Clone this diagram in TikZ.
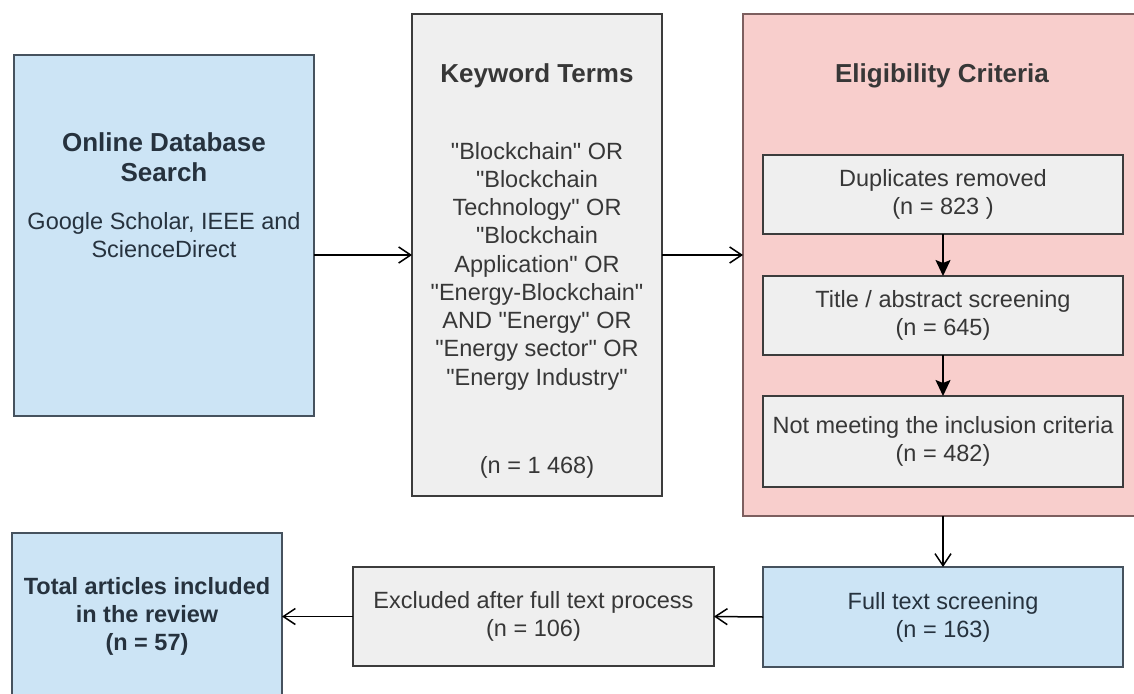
\documentclass[tikz,border=0pt]{standalone}
\usepackage{fontspec}
\setmainfont{Liberation Sans}[Ligatures=TeXOff]
\usetikzlibrary{positioning,arrows.meta}
\definecolor{blueFill}{RGB}{204,228,245}
\definecolor{blueLine}{RGB}{70,82,94}
\definecolor{grayFill}{RGB}{239,239,239}
\definecolor{grayLine}{RGB}{60,60,60}
\definecolor{pinkFill}{RGB}{248,206,204}
\definecolor{pinkLine}{RGB}{125,95,95}
\definecolor{txtBlue}{RGB}{38,50,62}
\definecolor{txtGray}{RGB}{55,55,55}
\tikzset{
  box/.style={rectangle, draw, line width=1.6pt, inner sep=0pt, outer sep=0pt,
    align=center, font=\fontsize{23.5}{28}\selectfont},
  bluebox/.style={box, fill=blueFill, draw=blueLine, text=txtBlue},
  graybox/.style={box, fill=grayFill, draw=grayLine, text=txtGray},
  pinkbox/.style={box, fill=pinkFill, draw=pinkLine},
  boxtitle/.style={align=center, inner sep=0pt, font=\fontsize{26}{30}\selectfont\bfseries},
  boxtext/.style={align=center, inner sep=0pt, text=txtGray, font=\fontsize{23.5}{28.25}\selectfont},
  openarrow/.style={-{Straight Barb[length=12pt,width=16pt]}, line width=1.5pt},
  blockarrow/.style={-{Stealth[length=16pt,width=15pt,inset=3pt]}, line width=1.5pt}
}
\begin{document}
\begin{tikzpicture}[x=1pt,y=-1pt]
\clip (0,0) rectangle (1134,693);
\fill[white] (0,0) rectangle (1134,693);
% search and keywords
\node[bluebox, minimum width=300pt, minimum height=361pt] (search) at (164,235.5)
  {Google Scholar, IEEE and\\ScienceDirect};
\node[boxtitle, text=txtBlue] (searchtitle) at (164,157) {Online Database\\Search};
\node[graybox, minimum width=250pt, minimum height=482pt] (keywords) at (537,255) {};
\node[boxtitle, text=txtGray] (keytitle) at (537,76) {Keyword Terms};
\node[boxtext] (keylist) at (537,266) {"Blockchain" OR\\"Blockchain\\Technology" OR\\"Blockchain\\Application" OR\\"Energy-Blockchain"\\AND "Energy" OR\\"Energy sector" OR\\"Energy Industry"};
\node[boxtext] (keycount) at (537,467) {(n = 1 468)};
% eligibility criteria
\node[pinkbox, minimum width=398pt, minimum height=502pt] (elig) at (942,265) {};
\node[boxtitle, text=txtGray] (eligtitle) at (942,76) {Eligibility Criteria};
\node[graybox, minimum width=360pt, minimum height=79pt] (dupl) at (943,194.5) {Duplicates removed\\(n = 823 )};
\node[graybox, minimum width=360pt, minimum height=79pt] (abstr) at (943,315.5) {Title / abstract screening\\(n = 645)};
\node[graybox, minimum width=360pt, minimum height=91pt] (incl) at (943,441.5) {Not meeting the inclusion criteria\\(n = 482)};
% bottom row
\node[bluebox, minimum width=360pt, minimum height=100pt] (fulltext) at (943,617) {Full text screening\\(n = 163)};
\node[graybox, minimum width=361pt, minimum height=99pt] (excl) at (533.5,616.5) {Excluded after full text process\\(n = 106)};
\node[bluebox, minimum width=270pt, minimum height=167pt, font=\fontsize{23.5}{28}\selectfont\bfseries] (total) at (147,616.5) {Total articles included\\in the review\\(n = 57)};
% connectors
\draw[openarrow] (search.east |- keywords.west) -- (keywords.west);
\draw[openarrow] (keywords.east) -- (keywords.east -| elig.west);
\draw[blockarrow] (dupl) -- (abstr);
\draw[blockarrow] (abstr) -- (incl);
\draw[openarrow] (fulltext.north |- elig.south) -- (fulltext.north);
\draw[openarrow] (fulltext.west) -- (excl.east);
\draw[openarrow] (excl.west) -- (total.east);
\end{tikzpicture}
\end{document}
